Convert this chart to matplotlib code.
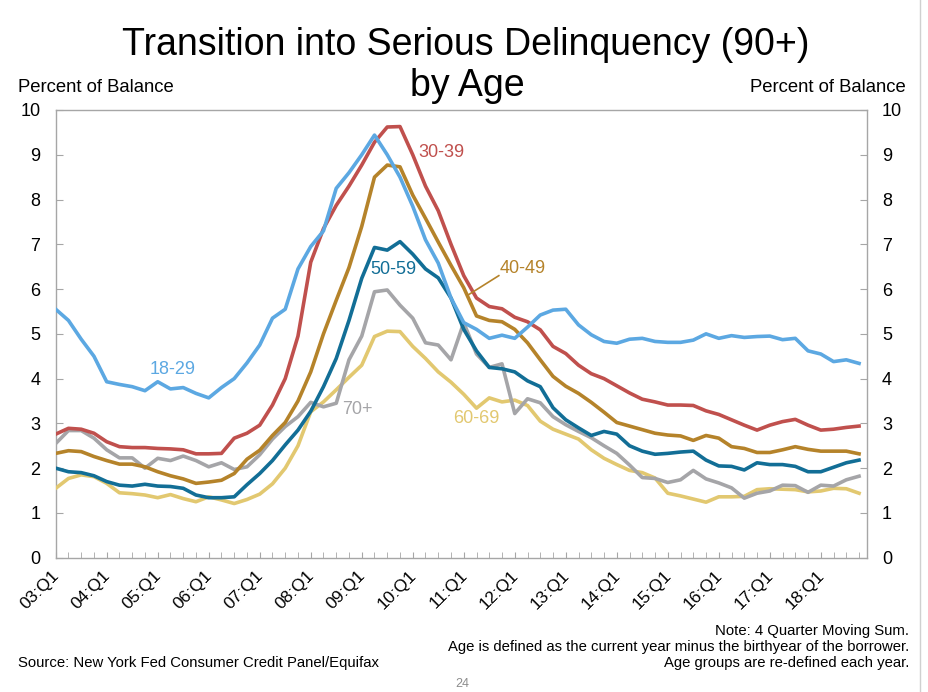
import numpy as np
import matplotlib
matplotlib.use("Agg")
import matplotlib.pyplot as plt
import matplotlib.transforms as mtransforms

plt.rcParams['font.family'] = ['Liberation Sans', 'DejaVu Sans']

# ---- data (percent of balance), quarters 03:Q1 .. 18:Q4 ----
quarters = [f"{y:02d}:Q{q}" for y in range(3, 19) for q in range(1, 5)]

age_18_29 = [5.55, 5.3, 4.88, 4.5, 3.93, 3.87, 3.82, 3.73, 3.93, 3.77, 3.8, 3.67, 3.57, 3.8, 4.0, 4.35,
             4.75, 5.35, 5.55, 6.45, 6.95, 7.3, 8.25, 8.6, 9.0, 9.44, 9.0, 8.5, 7.85, 7.1, 6.58, 5.8,
             5.25, 5.1, 4.9, 4.97, 4.9, 5.15, 5.42, 5.53, 5.55, 5.2, 4.98, 4.83, 4.79, 4.88, 4.9, 4.83,
             4.81, 4.81, 4.86, 5.0, 4.9, 4.96, 4.92, 4.94, 4.95, 4.87, 4.9, 4.62, 4.55, 4.38, 4.42, 4.34]
age_30_39 = [2.76, 2.89, 2.87, 2.78, 2.59, 2.48, 2.46, 2.46, 2.44, 2.43, 2.41, 2.32, 2.32, 2.33, 2.67, 2.78,
             2.96, 3.41, 4.0, 4.95, 6.6, 7.35, 7.87, 8.3, 8.77, 9.28, 9.62, 9.63, 9.0, 8.3, 7.75, 7.0,
             6.3, 5.8, 5.61, 5.56, 5.37, 5.27, 5.09, 4.72, 4.56, 4.3, 4.11, 4.0, 3.84, 3.68, 3.54, 3.48,
             3.41, 3.41, 3.4, 3.28, 3.2, 3.08, 2.96, 2.85, 2.96, 3.04, 3.09, 2.96, 2.85, 2.87, 2.91, 2.94]
age_40_49 = [2.33, 2.39, 2.37, 2.26, 2.17, 2.09, 2.09, 2.03, 1.92, 1.83, 1.76, 1.66, 1.69, 1.73, 1.88, 2.2,
             2.4, 2.73, 3.02, 3.5, 4.15, 5.0, 5.75, 6.48, 7.4, 8.5, 8.77, 8.73, 8.1, 7.58, 7.05, 6.53,
             6.03, 5.4, 5.3, 5.27, 5.1, 4.8, 4.42, 4.05, 3.83, 3.67, 3.47, 3.25, 3.02, 2.94, 2.86, 2.78,
             2.74, 2.72, 2.62, 2.73, 2.67, 2.48, 2.44, 2.35, 2.35, 2.41, 2.48, 2.42, 2.38, 2.38, 2.38, 2.32]
age_50_59 = [2.0, 1.92, 1.9, 1.83, 1.7, 1.62, 1.6, 1.64, 1.6, 1.59, 1.55, 1.4, 1.34, 1.34, 1.36, 1.63,
             1.88, 2.17, 2.52, 2.85, 3.27, 3.82, 4.45, 5.3, 6.24, 6.93, 6.87, 7.06, 6.78, 6.45, 6.25, 5.8,
             5.1, 4.62, 4.25, 4.22, 4.15, 3.95, 3.82, 3.35, 3.08, 2.9, 2.73, 2.82, 2.76, 2.5, 2.38, 2.31,
             2.33, 2.36, 2.38, 2.18, 2.05, 2.04, 1.96, 2.12, 2.08, 2.08, 2.04, 1.92, 1.92, 2.02, 2.12, 2.18]
age_60_69 = [1.55, 1.77, 1.85, 1.81, 1.66, 1.45, 1.43, 1.4, 1.34, 1.41, 1.32, 1.25, 1.36, 1.29, 1.21, 1.3,
             1.42, 1.65, 2.0, 2.5, 3.26, 3.48, 3.75, 4.03, 4.3, 4.94, 5.06, 5.05, 4.72, 4.45, 4.15, 3.92,
             3.65, 3.34, 3.57, 3.48, 3.52, 3.4, 3.05, 2.87, 2.76, 2.65, 2.41, 2.22, 2.08, 1.95, 1.9, 1.78,
             1.44, 1.38, 1.31, 1.24, 1.36, 1.36, 1.37, 1.52, 1.54, 1.53, 1.52, 1.47, 1.49, 1.55, 1.54, 1.44]
age_70_plus = [2.55, 2.84, 2.84, 2.67, 2.41, 2.23, 2.23, 2.0, 2.22, 2.17, 2.27, 2.17, 2.03, 2.12, 1.97, 2.03,
               2.3, 2.65, 2.93, 3.15, 3.47, 3.37, 3.45, 4.42, 4.95, 5.94, 5.98, 5.64, 5.35, 4.8, 4.75, 4.42,
               5.25, 4.55, 4.25, 4.33, 3.22, 3.55, 3.46, 3.15, 2.97, 2.82, 2.68, 2.5, 2.33, 2.07, 1.79, 1.77,
               1.68, 1.74, 1.95, 1.76, 1.67, 1.56, 1.33, 1.44, 1.49, 1.62, 1.61, 1.46, 1.62, 1.6, 1.74, 1.82]

series = [
    ("18-29", age_18_29, "#5CA8E2"),
    ("30-39", age_30_39, "#C0504D"),
    ("40-49", age_40_49, "#B5832A"),
    ("50-59", age_50_59, "#126E96"),
    ("60-69", age_60_69, "#E2C870"),
    ("70+", age_70_plus, "#A5A5A8"),
]
# draw order (back to front)
draw_order = ["60-69", "70+", "50-59", "40-49", "30-39", "18-29"]

W, H = 929, 692
fig = plt.figure(figsize=(W / 100, H / 100), dpi=100)
fig.patch.set_facecolor("white")

ax_left, ax_right, ax_top, ax_bottom = 55.7, 866.7, 110.0, 557.7
ax = fig.add_axes([ax_left / W, 1 - ax_bottom / H, (ax_right - ax_left) / W, (ax_bottom - ax_top) / H])

x = np.arange(len(quarters))
lookup = {n: (v, c) for n, v, c in series}
for name in draw_order:
    vals, col = lookup[name]
    ax.plot(x, vals, color=col, lw=2.6, solid_joinstyle="round", zorder=3)

ax.set_xlim(0, 63.6)
ax.set_ylim(0, 10)

spine_col = "#A6A6A6"
for s in ax.spines.values():
    s.set_color(spine_col)
    s.set_linewidth(1.0)

ax.set_yticks(range(0, 11))
ax.tick_params(axis="y", direction="in", length=5, color=spine_col, labelsize=13,
               left=True, right=True, labelleft=True, labelright=True, pad=11)

major_idx = list(range(0, len(quarters), 4))
ax.set_xticks(major_idx)
ax.set_xticklabels([quarters[i] for i in major_idx], rotation=45, ha="right", va="center",
                   rotation_mode="anchor", fontsize=12.5)
ax.set_xticks(x, minor=True)
ax.tick_params(axis="x", which="both", direction="in", length=4, color=spine_col, pad=11)
offset = mtransforms.ScaledTranslation(1 / 100, 0, fig.dpi_scale_trans)
for lab in ax.get_xticklabels():
    lab.set_transform(lab.get_transform() + offset)

# series labels
ax.text(28.4, 9.04, "30-39", color="#C0504D", fontsize=13, ha="left", va="center")
ax.text(34.85, 6.47, "40-49", color="#B5832A", fontsize=13, ha="left", va="center")
ax.plot([32.35, 34.75], [5.87, 6.3], color="#B5832A", lw=1.2, zorder=4)
ax.text(24.7, 6.43, "50-59", color="#126E96", fontsize=13, ha="left", va="center")
ax.text(7.4, 4.21, "18-29", color="#5CA8E2", fontsize=13, ha="left", va="center")
ax.text(22.5, 3.3, "70+", color="#A5A5A8", fontsize=13, ha="left", va="center")
ax.text(31.15, 3.1, "60-69", color="#E2C870", fontsize=13, ha="left", va="center")

# titles and annotations
fig.text(466 / W, 1 - 45 / H, "Transition into Serious Delinquency (90+)", fontsize=27,
         ha="center", va="center")
fig.text(467 / W, 1 - 86 / H, "by Age", fontsize=27, ha="center", va="center")
fig.text(18 / W, 1 - 88 / H, "Percent of Balance", fontsize=13.3, ha="left", va="center")
fig.text(906 / W, 1 - 88 / H, "Percent of Balance", fontsize=13.3, ha="right", va="center")

fig.text(909 / W, 1 - 631 / H, "Note: 4 Quarter Moving Sum.", fontsize=10.7, ha="right", va="center")
fig.text(909 / W, 1 - 647 / H, "Age is defined as the current year minus the birthyear of the borrower.",
         fontsize=10.7, ha="right", va="center")
fig.text(909 / W, 1 - 663 / H, "Age groups are re-defined each year.", fontsize=10.7, ha="right", va="center")
fig.text(18 / W, 1 - 663 / H, "Source: New York Fed Consumer Credit Panel/Equifax", fontsize=10.7,
         ha="left", va="center")
fig.text(462 / W, 1 - 684 / H, "24", fontsize=9, color="#8C8C8C", ha="center", va="center")

# slide border line at right
fig.add_artist(plt.Line2D([920.5 / W, 920.5 / W], [0, 1], transform=fig.transFigure,
                          color="#D0D0D0", lw=1.0))

fig.savefig("out.png", dpi=100, facecolor="white")
